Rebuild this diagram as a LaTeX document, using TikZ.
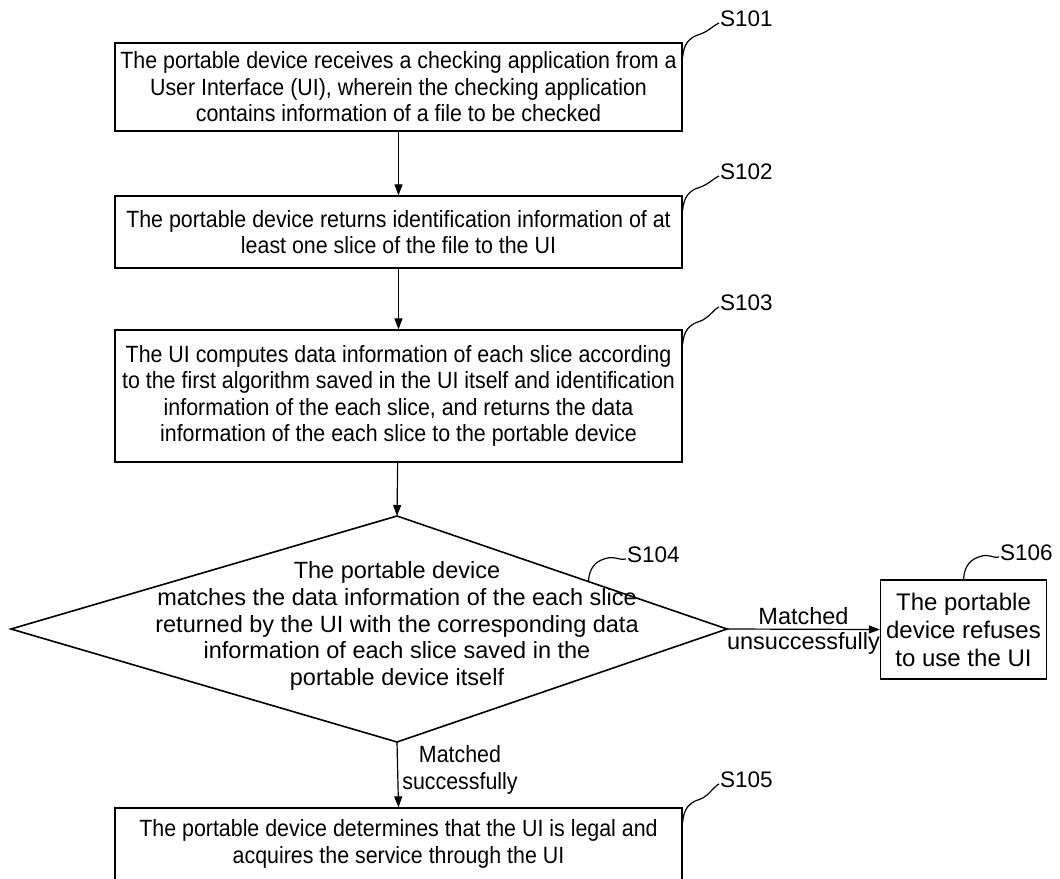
\documentclass[tikz,border=0pt]{standalone}
\usepackage{fontspec}
\setmainfont{Liberation Sans}
\newfontfamily\narrowsans{Liberation Sans}[FakeStretch=0.91]
\usetikzlibrary{arrows.meta,calc}
\begin{document}
\begin{tikzpicture}[x=1pt,y=-1pt,
  txt/.style={font=\fontsize{23.5}{26.6}\selectfont},
  boxtxt/.style={font=\narrowsans\fontsize{23.5}{26.5}\selectfont},
  stepbox/.style={draw,line width=1.3pt,boxtxt,align=center,inner sep=0pt,minimum width=567pt},
  flow/.style={line width=1.2pt,-{Triangle[length=11pt,width=8pt]}},
  tag/.style={line width=1.2pt},
  stepno/.style={font=\fontsize{22.5}{26}\selectfont,inner sep=0pt,anchor=west},
  tagcurve/.style={to path={.. controls ($(\tikztostart)+(1,-14)$) and ($(\tikztostart)+(7,-20)$)
      .. ($(\tikztostart)+(17,-23)$) .. controls ($(\tikztostart)+(26,-26)$) and ($(\tikztotarget)+(-5,2)$)
      .. (\tikztotarget)}}]
\useasboundingbox (0,0) rectangle (1060,878);

% process steps
\node[stepbox,minimum height=88pt] (s1) at (398.5,87)
  {The portable device receives a checking application from a\\User Interface (UI), wherein the checking application\\contains information of a file to be checked};
\node[stepbox,minimum height=72pt] (s2) at (398.5,232)
  {The portable device returns identification information of at\\least one slice of the file to the UI};
\node[stepbox,minimum height=132pt] (s3) at (398.5,396)
  {The UI computes data information of each slice according\\to the first algorithm saved in the UI itself and identification\\information of the each slice, and returns the data\\information of the each slice to the portable device};

% decision
\coordinate (dT) at (397,516);
\coordinate (dR) at (727,629);
\coordinate (dB) at (397,742);
\coordinate (dL) at (11,629);
\draw[line width=1.6pt] (dT) -- (dR) -- (dB) -- (dL) -- cycle;
\node[txt,align=center,inner sep=0pt] (s4) at (397,626)
  {The portable device\\matches the data information of the each slice\\returned by the UI with the corresponding data\\information of each slice saved in the\\portable device itself};

\node[draw,line width=1.3pt,align=center,inner sep=0pt,minimum width=166pt,minimum height=99pt,
      font=\fontsize{24}{28}\selectfont] (s6) at (963.5,629.5)
  {The portable\\device refuses\\to use the UI};
\node[stepbox,minimum height=72pt] (s5) at (398.5,844)
  {The portable device determines that the UI is legal and\\acquires the service through the UI};

% connectors
\draw[flow] (s1) -- (s2);
\draw[flow] (s2) -- (s3);
\draw[flow] (s3) -- (dT);
\draw[flow] (dR) -- (s6.west);
\draw[flow] (dB) -- (s5.north);
\node[txt,inner sep=0pt] (m1) at (803.5,616) {Matched};
\node[txt,inner sep=0pt] (m2) at (803.5,643) {unsuccessfully};
\node[boxtxt,align=center,inner sep=0pt] (m3) at (460,770) {Matched\\successfully};

% step numbers
\node[stepno] (l1) at (720,19) {S101};
\node[stepno] (l2) at (720,172) {S102};
\node[stepno] (l3) at (720,303) {S103};
\node[stepno] (l4) at (627,555) {S104};
\node[stepno] (l5) at (720,780) {S105};
\node[stepno] (l6) at (1000,553) {S106};

\draw[tag] ($(s1.north east)+(0,15)$) to[tagcurve] ($(l1.west)+(-1,4)$);
\draw[tag] ($(s2.north east)+(0,15)$) to[tagcurve] ($(l2.west)+(-1,4)$);
\draw[tag] ($(s3.north east)+(0,15)$) to[tagcurve] ($(l3.west)+(-1,4)$);
\draw[tag] ($(dT)!0.58!(dR)$) to[tagcurve] ($(l4.west)+(-1,4)$);
\draw[tag] ($(s5.north east)+(0,15)$) to[tagcurve] ($(l5.west)+(-1,4)$);
\draw[tag] (s6.north) to[tagcurve] ($(l6.west)+(-1,4)$);
\end{tikzpicture}
\end{document}
